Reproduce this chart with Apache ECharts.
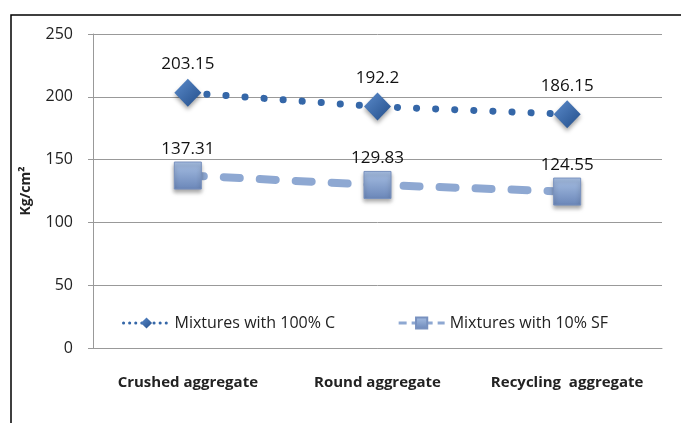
<!DOCTYPE html>
<html><head><meta charset="utf-8">
<script src="https://cdn.jsdelivr.net/npm/echarts@6/dist/echarts.min.js"></script>
<style>html,body{margin:0;padding:0;background:#fff}#c{width:681px;height:423px}</style>
</head><body><div id="c"></div>
<script>
const categories = ['Crushed aggregate', 'Round aggregate', 'Recycling  aggregate'];
const seriesC = [203.15, 192.2, 186.15];
const seriesSF = [137.31, 129.83, 124.55];
const seriesNames = ['Mixtures with 100% C', 'Mixtures with 10% SF'];
const yTicks = [0, 50, 100, 150, 200, 250];

const chart = echarts.init(document.getElementById('c'));
const font = '"Open Sans", sans-serif';
chart.setOption({
  animation: false,
  graphic: [{type: 'rect', shape: {x: 11, y: 15, width: 680, height: 420},
    style: {fill: 'none', stroke: '#000', lineWidth: 1.5}}],
  grid: {left: 93, right: 19, top: 34, bottom: 75},
  legend: {
    top: 310, left: 117, itemGap: 62, itemWidth: 46, itemHeight: 14,
    textStyle: {fontFamily: font, fontSize: 16, color: '#222'},
    data: [
      {name: seriesNames[0], lineStyle: {width: 3, type: [0.1, 6], cap: 'round'}},
      {name: seriesNames[1], lineStyle: {width: 3, type: [8, 5], cap: 'butt'}}
    ]
  },
  xAxis: {
    type: 'category', data: categories, boundaryGap: true,
    axisLine: {lineStyle: {color: '#999'}},
    axisTick: {alignWithLabel: true, lineStyle: {color: '#999'}},
    axisLabel: {interval: 0, fontFamily: font, fontSize: 15, fontWeight: 'bold', color: '#222', margin: 27}
  },
  yAxis: {
    type: 'value', min: 0, max: 250, interval: 50,
    name: 'Kg/cm²', nameLocation: 'middle', nameGap: 60, nameRotate: 90,
    nameTextStyle: {fontFamily: font, fontSize: 14, color: '#222', fontWeight: 'bold'},
    axisLine: {show: true, lineStyle: {color: '#999'}},
    axisTick: {show: true, lineStyle: {color: '#999'}},
    axisLabel: {fontFamily: font, fontSize: 16, color: '#222', margin: 20},
    splitLine: {lineStyle: {color: '#999'}}
  },
  series: [
    {
      name: seriesNames[0], type: 'line', data: seriesC,
      symbol: 'diamond', symbolSize: [27, 28],
      lineStyle: {color: '#3567A8', width: 7, type: [0.1, 19], cap: 'round'},
      itemStyle: {color: new echarts.graphic.LinearGradient(0, 0, 1, 1, [
        {offset: 0, color: '#5B8BCB'}, {offset: 1, color: '#234E8A'}]),
        shadowColor: 'rgba(0,0,0,0.35)', shadowBlur: 4, shadowOffsetY: 3},
      label: {show: true, position: 'top', distance: 6, fontFamily: font, fontSize: 17, color: '#111',
        formatter: p => String(p.value)}
    },
    {
      name: seriesNames[1], type: 'line', data: seriesSF,
      symbol: 'rect', symbolSize: 27,
      lineStyle: {color: '#8EA8D2', width: 8, type: [16, 20], cap: 'round'},
      itemStyle: {color: new echarts.graphic.LinearGradient(0, 0, 0, 1, [
        {offset: 0, color: '#A8C0E4'}, {offset: 1, color: '#6A86B8'}]),
        borderColor: '#7891BF', borderWidth: 1,
        shadowColor: 'rgba(0,0,0,0.35)', shadowBlur: 4, shadowOffsetY: 3},
      label: {show: true, position: 'top', distance: 4, fontFamily: font, fontSize: 17, color: '#111',
        formatter: p => String(p.value)}
    }
  ]
});
</script></body></html>
